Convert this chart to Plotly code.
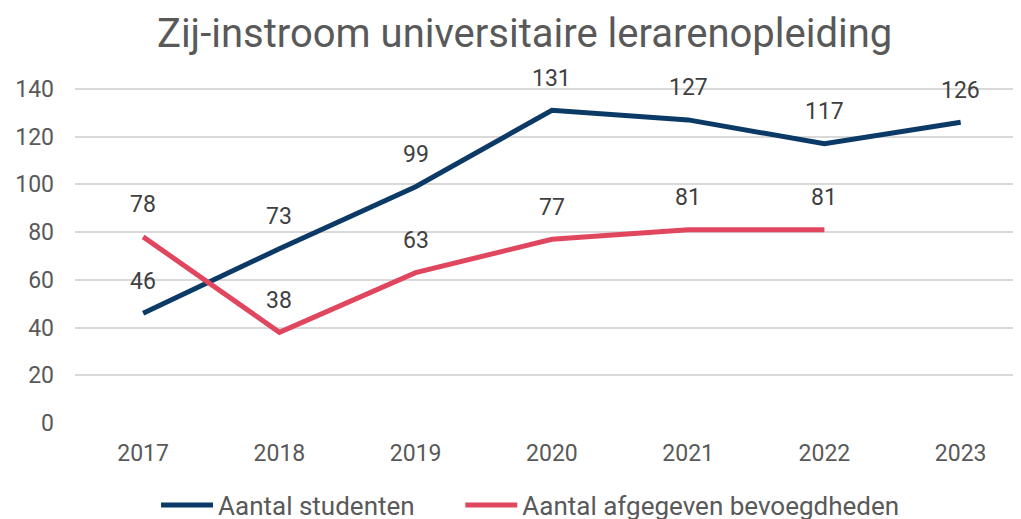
import plotly.graph_objects as go

years = ["2017", "2018", "2019", "2020", "2021", "2022", "2023"]
studenten = [46, 73, 99, 131, 127, 117, 126]
bevoegdheden = [78, 38, 63, 77, 81, 81, None]

blue = "#0B3A66"
red = "#E0475F"
grey = "#595959"
font = "Roboto, sans-serif"

fig = go.Figure()
fig.add_trace(go.Scatter(x=years, y=studenten, mode="lines", name="Aantal studenten",
                         line=dict(color=blue, width=5), legend="legend"))
fig.add_trace(go.Scatter(x=years, y=bevoegdheden, mode="lines", name="Aantal afgegeven bevoegdheden",
                         line=dict(color=red, width=5), legend="legend2"))

# data labels above each point (category index used for x)
for series in (studenten, bevoegdheden):
    for i, y in enumerate(series):
        if y is None:
            continue
        fig.add_annotation(x=i, y=y, text=str(y), showarrow=False, yshift=32,
                           font=dict(size=23, color="#404040", family=font))

legend_style = dict(orientation="h", xref="container", yref="container",
                    xanchor="left", y=0.0424, yanchor="middle", itemwidth=52,
                    font=dict(size=26, color=grey))

fig.update_layout(
    title=dict(text="Zij-instroom universitaire lerarenopleiding", x=0.506, xanchor="center",
               y=0.952, yanchor="middle", font=dict(size=40, color=grey, family=font)),
    width=1021, height=519,
    margin=dict(l=67, r=7, t=57, b=104),
    plot_bgcolor="white", paper_bgcolor="white",
    font=dict(family=font, color=grey, size=23),
    showlegend=True,
    legend=dict(x=0.145, **legend_style),
    legend2=dict(x=0.443, **legend_style),
    xaxis=dict(type="category", range=[-0.5, 6.45], showgrid=False, showline=False,
               automargin=False, ticks="", ticklabelstandoff=14,
               tickfont=dict(size=23, color=grey)),
    yaxis=dict(range=[0, 150], tickvals=[0, 20, 40, 60, 80, 100, 120, 140],
               gridcolor="#d9d9d9", gridwidth=1.5, zeroline=False, showline=False,
               automargin=False, ticks="", ticklabelstandoff=20,
               tickfont=dict(size=23, color=grey)),
)

fig.write_html("out.html")
